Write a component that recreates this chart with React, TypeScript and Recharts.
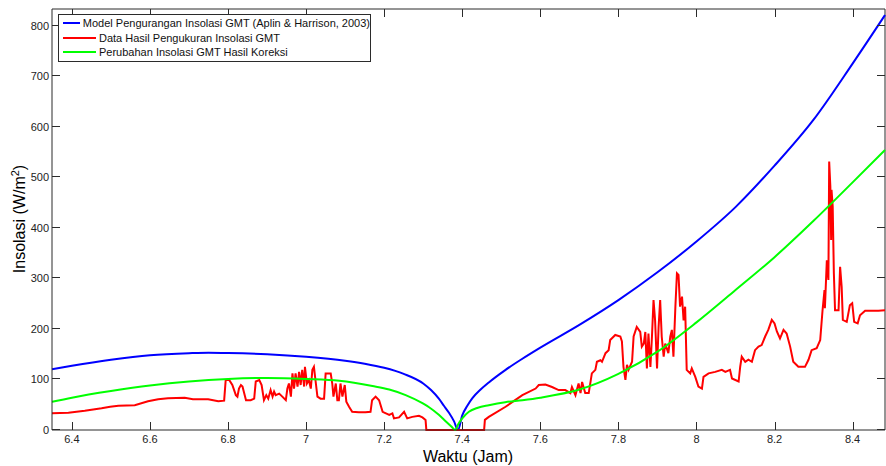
import { Legend, Line, LineChart, ReferenceLine, XAxis, YAxis } from "recharts";

const FONT = '"Liberation Sans", Arial, sans-serif';
const AXIS = "#2b2b2b";

const modelName = "Model Pengurangan Insolasi GMT (Aplin & Harrison, 2003)";
const measuredName = "Data Hasil Pengukuran Insolasi GMT";
const correctedName = "Perubahan Insolasi GMT Hasil Koreksi";

// model (biru)
const modelHours = [
  6.349, 6.4, 6.5, 6.6, 6.7, 6.75, 6.8, 6.9, 7.0, 7.1, 7.15, 7.2, 7.25, 7.3,
  7.32, 7.34, 7.353, 7.366, 7.379, 7.389, 7.4, 7.413, 7.426, 7.447, 7.468, 7.511,
  7.554, 7.6, 7.7, 7.8, 7.9, 8.0, 8.1, 8.2, 8.3, 8.4, 8.483,
];
const modelInsolation = [
  120, 127, 139, 148, 152, 153, 152.5, 150, 145, 137, 131, 123, 111, 92,
  79, 62, 48, 34, 17, 0, 29, 48, 63, 80, 94, 119,
  141, 163, 208, 257, 312, 373, 441, 523, 614, 725, 821,
];

// hasil koreksi (hijau)
const correctedHours = [
  6.349, 6.4, 6.5, 6.6, 6.7, 6.8, 6.9, 7.0, 7.085, 7.17, 7.213, 7.255, 7.298,
  7.315, 7.34, 7.358, 7.372, 7.382, 7.39, 7.4, 7.417, 7.44, 7.468, 7.51, 7.554,
  7.6, 7.7, 7.8, 7.9, 8.0, 8.1, 8.2, 8.3, 8.4, 8.483,
];
const correctedInsolation = [
  56, 64, 77, 88, 96, 101, 103, 101, 97.5, 87, 80, 69, 53,
  45, 30, 17, 7, 0, 12, 23, 36, 44, 49, 55, 59,
  64, 80, 111, 155, 213, 277, 342, 414, 490, 554,
];

// pengukuran (merah)
const measuredHours = [
  6.349, 6.391, 6.433, 6.476, 6.498, 6.519, 6.561, 6.595, 6.621, 6.646, 6.689, 6.71,
  6.749, 6.775, 6.79, 6.794, 6.803, 6.811, 6.82, 6.824, 6.828, 6.833, 6.837, 6.846,
  6.858, 6.867, 6.871, 6.88, 6.886, 6.892, 6.898, 6.903, 6.909, 6.914, 6.918, 6.922,
  6.931, 6.939, 6.948, 6.952, 6.956, 6.961, 6.965, 6.969, 6.973, 6.978, 6.982, 6.986,
  6.99, 6.995, 6.997, 7.002, 7.007, 7.012, 7.016, 7.02, 7.025, 7.029, 7.037, 7.046,
  7.05, 7.063, 7.067, 7.07, 7.076, 7.08, 7.084, 7.088, 7.093, 7.099, 7.103, 7.11,
  7.118, 7.135, 7.152, 7.165, 7.169, 7.178, 7.187, 7.196, 7.213, 7.221, 7.225, 7.238,
  7.251, 7.259, 7.272, 7.289, 7.298, 7.306, 7.308, 7.456, 7.458, 7.468, 7.511, 7.554,
  7.588, 7.596, 7.613, 7.63, 7.647, 7.664, 7.677, 7.681, 7.69, 7.698, 7.703, 7.707,
  7.715, 7.724, 7.732, 7.741, 7.745, 7.754, 7.758, 7.767, 7.775, 7.779, 7.792, 7.805,
  7.809, 7.813, 7.818, 7.822, 7.826, 7.835, 7.839, 7.847, 7.856, 7.86, 7.865, 7.869,
  7.873, 7.877, 7.882, 7.886, 7.89, 7.894, 7.899, 7.903, 7.907, 7.911, 7.916, 7.92,
  7.928, 7.933, 7.937, 7.941, 7.946, 7.95, 7.954, 7.958, 7.963, 7.967, 7.971, 7.975,
  7.984, 7.988, 7.997, 8.005, 8.014, 8.018, 8.031, 8.048, 8.065, 8.074, 8.086, 8.091,
  8.108, 8.112, 8.116, 8.125, 8.133, 8.142, 8.15, 8.159, 8.167, 8.176, 8.184, 8.193,
  8.2, 8.206, 8.214, 8.223, 8.231, 8.24, 8.248, 8.261, 8.278, 8.287, 8.295, 8.308,
  8.317, 8.323, 8.328, 8.329, 8.334, 8.338, 8.34, 8.343, 8.345, 8.346, 8.349, 8.352,
  8.355, 8.364, 8.368, 8.372, 8.375, 8.385, 8.393, 8.399, 8.404, 8.413, 8.419, 8.432,
  8.449, 8.466, 8.483,
];
const measuredInsolation = [
  33, 34, 38, 43, 46, 48, 49, 57, 61, 63, 64, 61,
  61, 57, 58, 99, 99, 89, 69, 66, 82, 89, 86, 59,
  59, 62, 96, 99, 89, 59, 69, 62, 79, 66, 76, 69,
  72, 66, 59, 82, 92, 66, 112, 82, 112, 86, 115, 89,
  119, 86, 125, 92, 99, 82, 119, 125, 92, 66, 62, 62,
  112, 112, 92, 66, 92, 59, 59, 92, 66, 89, 56, 46,
  36, 35, 35, 36, 59, 66, 59, 36, 30, 33, 23, 25,
  36, 23, 26, 28, 25, 20, 0, 0, 20, 26, 46, 69,
  82, 89, 90, 85, 79, 79, 73, 85, 69, 92, 73, 95,
  73, 73, 112, 119, 135, 138, 135, 152, 158, 178, 188, 185,
  175, 125, 99, 129, 119, 135, 185, 204, 194, 165, 171, 194,
  122, 191, 125, 185, 257, 217, 122, 204, 257, 185, 145, 171,
  152, 185, 198, 145, 244, 310, 307, 244, 264, 217, 244, 119,
  112, 122, 105, 86, 82, 105, 112, 115, 119, 115, 119, 102,
  96, 125, 145, 135, 139, 135, 158, 165, 168, 185, 198, 218,
  211, 195, 181, 198, 191, 165, 135, 125, 125, 139, 158, 162,
  178, 237, 277, 241, 336, 297, 531, 481, 376, 475, 442, 310,
  237, 237, 323, 283, 218, 214, 247, 251, 214, 211, 227, 236,
  236, 236, 237,
];

const hourTicks = [6.4, 6.6, 6.8, 7, 7.2, 7.4, 7.6, 7.8, 8, 8.2, 8.4];
const insolationTicks = [0, 100, 200, 300, 400, 500, 600, 700, 800];

const toSeries = (hours: number[], values: number[]) =>
  hours.map((hour, i) => ({ hour, value: values[i] }));

const modelData = toSeries(modelHours, modelInsolation);
const measuredData = toSeries(measuredHours, measuredInsolation);
const correctedData = toSeries(correctedHours, correctedInsolation);

const X_DOMAIN: [number, number] = [6.349, 8.483];
const Y_DOMAIN: [number, number] = [0, 833];

// bingkai plot (px) untuk tick di sisi atas/kanan
const PLOT_TOP = 9;
const PLOT_RIGHT = 885;
const TICK_LEN = 8;

// tick ke dalam (gaya MATLAB) di keempat sisi, digambar sebagai rect 1px
const BottomTick = (props: any) => {
  const { x, y, payload } = props;
  const px = Math.round(x);
  return (
    <g>
      <rect x={px} y={y - TICK_LEN} width={1} height={TICK_LEN} fill={AXIS} />
      <rect x={px} y={PLOT_TOP} width={1} height={TICK_LEN} fill={AXIS} />
      <text x={x} y={y + 13} textAnchor="middle" fontSize={11} fontFamily={FONT} fill="#222">
        {payload.value}
      </text>
    </g>
  );
};

const LeftTick = (props: any) => {
  const { x, y, payload } = props;
  const py = Math.round(y) - 1;
  return (
    <g>
      <rect x={x} y={py} width={TICK_LEN} height={1} fill={AXIS} />
      <rect x={PLOT_RIGHT - TICK_LEN} y={py} width={TICK_LEN} height={1} fill={AXIS} />
      <text x={x - 3} y={y + 4} textAnchor="end" fontSize={11} fontFamily={FONT} fill="#222">
        {payload.value}
      </text>
    </g>
  );
};

const YTitle = () => (
  <text
    x={25}
    y={219}
    transform="rotate(-90, 25, 219)"
    textAnchor="middle"
    fontSize={16}
    fontFamily={FONT}
    fill="#000"
  >
    Insolasi (W/m
    <tspan dy={-6} fontSize={11}>2</tspan>
    <tspan dy={6}>)</tspan>
  </text>
);

const XTitle = () => (
  <text x={468} y={462} textAnchor="middle" fontSize={16} fontFamily={FONT} fill="#000">
    Waktu (Jam)
  </text>
);

const legendOrder = [modelName, measuredName, correctedName];

const renderLegend = (props: any) => {
  const items = [...(props.payload || [])].sort(
    (a: any, b: any) => legendOrder.indexOf(a.value) - legendOrder.indexOf(b.value)
  );
  return (
    <div
      style={{
        width: 313,
        height: 48,
        boxSizing: "border-box",
        border: `1px solid ${AXIS}`,
        background: "#fff",
        paddingTop: 1,
        fontFamily: FONT,
        fontSize: 11,
        color: "#111",
      }}
    >
      {items.map((entry: any) => (
        <div
          key={entry.value}
          style={{ display: "flex", alignItems: "center", height: 14.5, whiteSpace: "nowrap" }}
        >
          <span
            style={{
              display: "inline-block",
              width: 33,
              height: 2,
              marginLeft: 4,
              marginRight: 3,
              background: entry.color,
            }}
          />
          <span>{entry.value}</span>
        </div>
      ))}
    </div>
  );
};

export default function App() {
  return (
    <div style={{ position: "absolute", left: 0, top: 0, background: "#fff" }}>
      <LineChart
        width={886}
        height={466}
        margin={{ top: PLOT_TOP, right: 886 - PLOT_RIGHT, bottom: 0, left: 0 }}
      >
        <XAxis
          dataKey="hour"
          type="number"
          domain={X_DOMAIN}
          ticks={hourTicks}
          height={36}
          tickLine={false}
          tickSize={0}
          tickMargin={0}
          tick={<BottomTick />}
          axisLine={{ stroke: AXIS }}
          label={<XTitle />}
        />
        <YAxis
          type="number"
          domain={Y_DOMAIN}
          ticks={insolationTicks}
          width={52}
          tickLine={false}
          tickSize={0}
          tickMargin={0}
          tick={<LeftTick />}
          axisLine={{ stroke: AXIS }}
          label={<YTitle />}
        />
        {/* sisi atas dan kanan kotak sumbu */}
        <ReferenceLine y={Y_DOMAIN[1]} stroke={AXIS} strokeWidth={1} />
        <ReferenceLine x={X_DOMAIN[1]} stroke={AXIS} strokeWidth={1} />
        <Line
          data={modelData}
          dataKey="value"
          name={modelName}
          type="monotone"
          stroke="#0000ff"
          strokeWidth={2}
          dot={false}
          activeDot={false}
          isAnimationActive={false}
        />
        <Line
          data={measuredData}
          dataKey="value"
          name={measuredName}
          type="linear"
          stroke="#ff0000"
          strokeWidth={2}
          dot={false}
          activeDot={false}
          isAnimationActive={false}
        />
        <Line
          data={correctedData}
          dataKey="value"
          name={correctedName}
          type="monotone"
          stroke="#00ff00"
          strokeWidth={2}
          dot={false}
          activeDot={false}
          isAnimationActive={false}
        />
        <Legend
          layout="vertical"
          align="center"
          verticalAlign="middle"
          wrapperStyle={{ left: 58, top: 14, width: 313 }}
          content={renderLegend}
        />
      </LineChart>
    </div>
  );
}
